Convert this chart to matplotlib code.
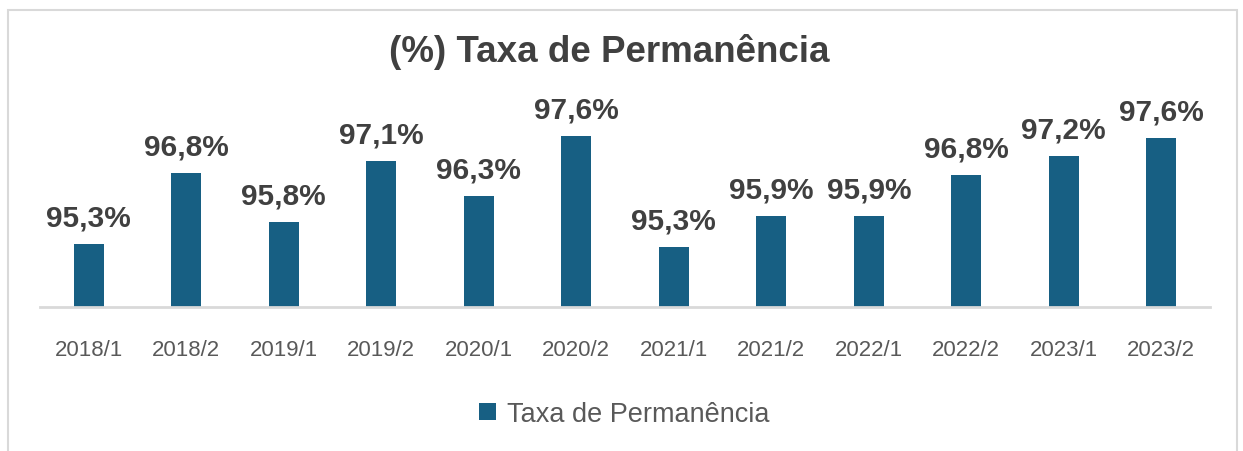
import matplotlib
matplotlib.use("Agg")
import matplotlib.pyplot as plt
from matplotlib.patches import Rectangle

categories = ["2018/1", "2018/2", "2019/1", "2019/2", "2020/1", "2020/2",
              "2021/1", "2021/2", "2022/1", "2022/2", "2023/1", "2023/2"]
values = [95.34, 96.83, 95.80, 97.10, 96.35, 97.62,
          95.27, 95.93, 95.93, 96.79, 97.20, 97.58]
series_name = "Taxa de Permanência"
title = "(%) Taxa de Permanência"

plt.rcParams['font.family'] = ['Liberation Sans', 'DejaVu Sans']

W, H = 1243, 452
fig = plt.figure(figsize=(W / 100, H / 100), dpi=100)
fig.patch.set_facecolor("white")

# outer frame
fig.patches.append(Rectangle((7.5 / W, -0.05), (1237 - 7.5) / W, 1.05 - 10.5 / H,
                             transform=fig.transFigure, fill=False,
                             edgecolor="#D9D9D9", linewidth=1.5))

left, right = 40 / W, 1210 / W
bottom, top = 1 - 308 / H, 1 - 90 / H
ax = fig.add_axes([left, bottom, right - left, top - bottom])

bar_color = "#175F83"
x = range(len(categories))
bars = ax.bar(x, values, width=0.31, color=bar_color, label=series_name, zorder=2)

ax.set_xlim(-0.5, len(categories) - 0.5)
ax.set_ylim(94, 94 + 218 / 47.2)

for rect, v in zip(bars, values):
    ax.annotate(f"{round(v, 1):.1f}%".replace(".", ","),
                xy=(rect.get_x() + rect.get_width() / 2, rect.get_height()),
                xytext=(0, 9), textcoords="offset points",
                ha="center", va="bottom", fontsize=21.5, fontweight="bold",
                color="#404040", annotation_clip=False)

for s in ["top", "right", "left"]:
    ax.spines[s].set_visible(False)
ax.spines["bottom"].set_color("#D9D9D9")
ax.spines["bottom"].set_linewidth(2)
ax.set_yticks([])
ax.set_xticks(list(x))
ax.set_xticklabels(categories, fontsize=16, color="#595959")
ax.tick_params(axis="x", length=0, pad=23)

fig.text(609 / W, 1 - 52 / H, title, ha="center", va="center",
         fontsize=26.5, fontweight="bold", color="#404040")

leg = fig.legend(handles=[bars], labels=[series_name], loc="center",
                 bbox_to_anchor=(624 / W, 1 - 415 / H), frameon=False,
                 fontsize=19.5, handlelength=0.62, handleheight=0.62,
                 handletextpad=0.4)
for t in leg.get_texts():
    t.set_color("#595959")

fig.savefig("out.png", dpi=100, facecolor="white")
